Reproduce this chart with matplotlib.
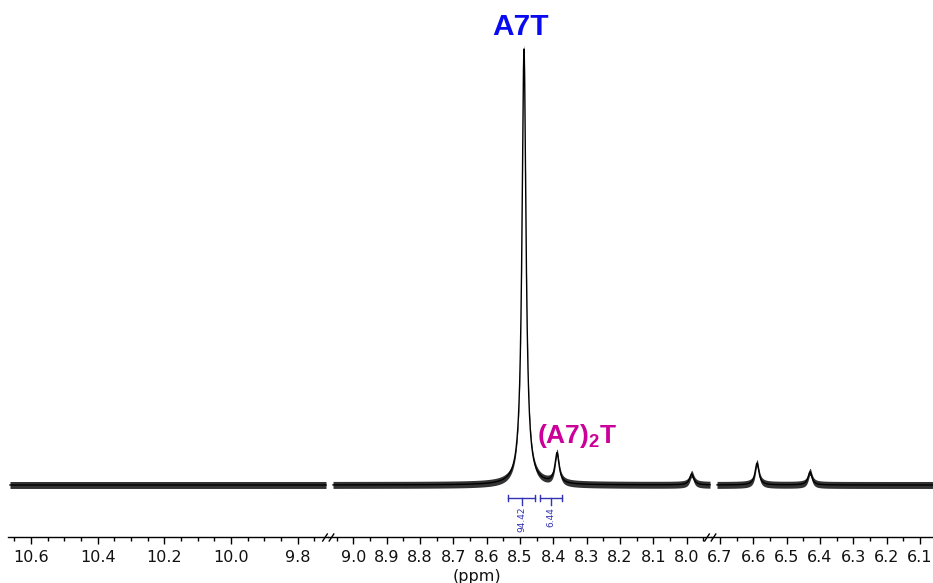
import numpy as np
import matplotlib
matplotlib.use("Agg")
import matplotlib.pyplot as plt
from matplotlib.ticker import FixedLocator, MultipleLocator
from matplotlib.lines import Line2D

plt.rcParams['font.family'] = ['DejaVu Sans']
plt.rcParams['mathtext.fontset'] = 'custom'
plt.rcParams['mathtext.bf'] = 'Liberation Sans:bold'
plt.rcParams['mathtext.rm'] = 'Liberation Sans'

# peak table: position (ppm), height (A7T = 100), half width (ppm)
peak_ppm = [8.488, 8.389, 7.985, 6.589, 6.430]
peak_height = [100.0, 6.9, 2.5, 5.0, 3.0]
peak_hwhm = [0.0072, 0.0075, 0.0075, 0.0070, 0.0070]
noise_level = 0.8

# displayed windows of the spectrum (ppm, high -> low)
seg_data = [(10.663, 9.715), (9.061, 7.930), (6.709, 6.061)]
seg_xlim = [(10.669, 9.709), (9.076, 7.927), (6.727, 6.061)]
seg_ticks = [
    [10.6, 10.4, 10.2, 10.0, 9.8],
    [9.0, 8.9, 8.8, 8.7, 8.6, 8.5, 8.4, 8.3, 8.2, 8.1, 8.0],
    [6.7, 6.6, 6.5, 6.4, 6.3, 6.2, 6.1],
]

# integration regions
int_start = [8.536, 8.440]
int_end = [8.455, 8.374]
int_value = [94.42, 6.44]

int_color = '#3232b4'

W, H = 933, 583
fig = plt.figure(figsize=(W / 100, H / 100), dpi=100)

# axes boundaries in pixels
edges = [8, 328, 711, 933]
bottom_px, top_px = 537, 30
ylim = (-11.93, 104.36)


def spectrum(x):
    y = np.zeros_like(x)
    for p, h, g in zip(peak_ppm, peak_height, peak_hwhm):
        y += h / (1 + ((x - p) / g) ** 2)
    return y


axes = []
for i in range(3):
    l, r = edges[i], edges[i + 1]
    ax = fig.add_axes([l / W, 1 - bottom_px / H, (r - l) / W, (bottom_px - top_px) / H])
    axes.append(ax)
    x = np.linspace(seg_data[i][0], seg_data[i][1], 3000)
    y = spectrum(x)
    # baseline noise envelope
    ax.fill_between(x, y - noise_level, y + noise_level, color='black', alpha=0.8, lw=0)
    ax.plot(x, y, color='black', lw=1.0)
    ax.set_xlim(*seg_xlim[i])
    ax.set_ylim(*ylim)
    for s in ['left', 'right', 'top']:
        ax.spines[s].set_visible(False)
    ax.spines['bottom'].set_linewidth(1.0)
    ax.set_yticks([])
    ax.xaxis.set_major_locator(FixedLocator(seg_ticks[i]))
    ax.xaxis.set_minor_locator(MultipleLocator(0.05))
    ax.set_xticklabels(['%.1f' % t for t in seg_ticks[i]])
    ax.tick_params(axis='x', which='major', length=5, width=1, pad=4,
                   labelsize=11.5, labelcolor='#111111')
    ax.tick_params(axis='x', which='minor', length=3, width=1)
    ax.patch.set_visible(False)

# break marks on the axis line
for xb in [328, 710]:
    for dx in [-3, 3.5]:
        xc = xb + dx
        fig.add_artist(Line2D([(xc - 2.3) / W, (xc + 2.3) / W],
                              [1 - 541 / H, 1 - 534 / H],
                              color='black', lw=1.0))

ax2 = axes[1]

# integrals
y_int = -2.98
for s, e, v in zip(int_start, int_end, int_value):
    ax2.plot([s, e], [y_int, y_int], color=int_color, lw=1.0)
    for xe in (s, e):
        ax2.plot([xe, xe], [y_int - 0.7, y_int + 0.7], color=int_color, lw=1.0)
    xm = (s + e) / 2
    ax2.plot([xm, xm], [y_int, y_int - 1.6], color=int_color, lw=1.0)
    ax2.text(xm, y_int - 2.0, '%.2f' % v, rotation=90, ha='center', va='top',
             fontsize=6.5, color=int_color)

# peak labels
ax2.text(8.497, 103.2, 'A7T', ha='center', va='baseline', fontsize=21.5,
         fontweight='bold', family='Liberation Sans', color='#0a0af0', clip_on=False)
ax2.text(8.449, 9.6, r'$\mathbf{(A7)}_\mathbf{2}\mathbf{T}$', ha='left', va='baseline',
         fontsize=19, color='#cc0099', clip_on=False)

fig.text(477 / W, 1 - 576 / H, '(ppm)', ha='center', va='center', fontsize=11.5,
         color='#111111')

fig.savefig('out.png', dpi=100)
